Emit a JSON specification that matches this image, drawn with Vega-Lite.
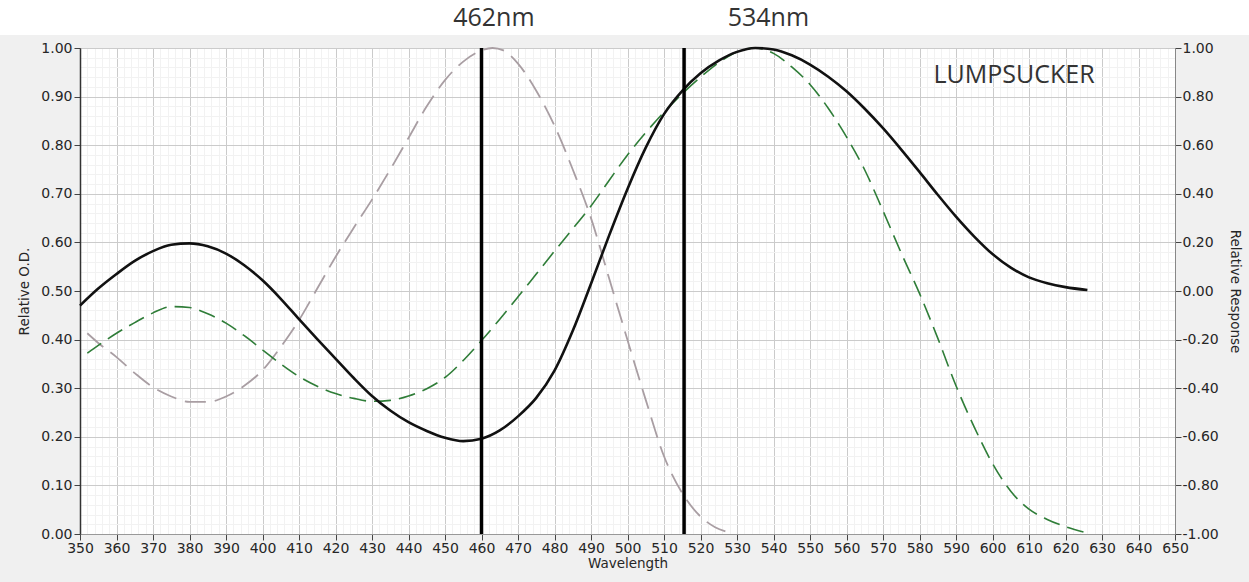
{
  "$schema": "https://vega.github.io/schema/vega-lite/v6.json",
  "width": 1095,
  "height": 486,
  "autosize": {"type": "none"},
  "padding": {"left": 80, "top": 48, "right": 74, "bottom": 48},
  "background": "#f0f0f0",
  "config": {
    "view": {"fill": "white", "stroke": "#666", "strokeWidth": 1},
    "axis": {
      "labelFont": "DejaVu Sans", "labelFontSize": 14, "labelColor": "#262626",
      "titleFont": "DejaVu Sans", "titleFontSize": 13.5, "titleFontWeight": "normal", "titleColor": "#262626",
      "tickColor": "#444", "tickSize": 6, "domainColor": "#444"
    }
  },
  "datasets": {
    "curves": [
      {"s": "k", "wl": 350, "v": 0.470}, {"s": "k", "wl": 355, "v": 0.505}, {"s": "k", "wl": 360, "v": 0.535}, {"s": "k", "wl": 365, "v": 0.562},
      {"s": "k", "wl": 370, "v": 0.582}, {"s": "k", "wl": 375, "v": 0.595}, {"s": "k", "wl": 380, "v": 0.598}, {"s": "k", "wl": 385, "v": 0.592},
      {"s": "k", "wl": 390, "v": 0.577}, {"s": "k", "wl": 395, "v": 0.553}, {"s": "k", "wl": 400, "v": 0.522}, {"s": "k", "wl": 405, "v": 0.484},
      {"s": "k", "wl": 410, "v": 0.442}, {"s": "k", "wl": 415, "v": 0.401}, {"s": "k", "wl": 420, "v": 0.361}, {"s": "k", "wl": 425, "v": 0.321},
      {"s": "k", "wl": 430, "v": 0.284}, {"s": "k", "wl": 435, "v": 0.254}, {"s": "k", "wl": 440, "v": 0.230}, {"s": "k", "wl": 445, "v": 0.212},
      {"s": "k", "wl": 450, "v": 0.198}, {"s": "k", "wl": 455, "v": 0.191}, {"s": "k", "wl": 460, "v": 0.196}, {"s": "k", "wl": 465, "v": 0.213},
      {"s": "k", "wl": 470, "v": 0.242}, {"s": "k", "wl": 475, "v": 0.280}, {"s": "k", "wl": 480, "v": 0.336}, {"s": "k", "wl": 485, "v": 0.418},
      {"s": "k", "wl": 490, "v": 0.515}, {"s": "k", "wl": 495, "v": 0.615}, {"s": "k", "wl": 500, "v": 0.710}, {"s": "k", "wl": 505, "v": 0.795},
      {"s": "k", "wl": 510, "v": 0.864}, {"s": "k", "wl": 515, "v": 0.912}, {"s": "k", "wl": 520, "v": 0.948}, {"s": "k", "wl": 525, "v": 0.974},
      {"s": "k", "wl": 530, "v": 0.992}, {"s": "k", "wl": 535, "v": 1.000}, {"s": "k", "wl": 540, "v": 0.997}, {"s": "k", "wl": 545, "v": 0.985},
      {"s": "k", "wl": 550, "v": 0.966}, {"s": "k", "wl": 555, "v": 0.941}, {"s": "k", "wl": 560, "v": 0.911}, {"s": "k", "wl": 565, "v": 0.875},
      {"s": "k", "wl": 570, "v": 0.835}, {"s": "k", "wl": 575, "v": 0.791}, {"s": "k", "wl": 580, "v": 0.745}, {"s": "k", "wl": 585, "v": 0.698},
      {"s": "k", "wl": 590, "v": 0.653}, {"s": "k", "wl": 595, "v": 0.612}, {"s": "k", "wl": 600, "v": 0.576}, {"s": "k", "wl": 605, "v": 0.548},
      {"s": "k", "wl": 610, "v": 0.528}, {"s": "k", "wl": 615, "v": 0.516}, {"s": "k", "wl": 620, "v": 0.508}, {"s": "k", "wl": 626, "v": 0.502},

      {"s": "g", "wl": 352, "v": 0.372}, {"s": "g", "wl": 355, "v": 0.388}, {"s": "g", "wl": 360, "v": 0.413}, {"s": "g", "wl": 365, "v": 0.435},
      {"s": "g", "wl": 370, "v": 0.455}, {"s": "g", "wl": 375, "v": 0.468}, {"s": "g", "wl": 380, "v": 0.466}, {"s": "g", "wl": 385, "v": 0.453},
      {"s": "g", "wl": 390, "v": 0.434}, {"s": "g", "wl": 395, "v": 0.408}, {"s": "g", "wl": 400, "v": 0.379}, {"s": "g", "wl": 405, "v": 0.350},
      {"s": "g", "wl": 410, "v": 0.324}, {"s": "g", "wl": 415, "v": 0.304}, {"s": "g", "wl": 420, "v": 0.289}, {"s": "g", "wl": 425, "v": 0.279},
      {"s": "g", "wl": 430, "v": 0.273}, {"s": "g", "wl": 435, "v": 0.275}, {"s": "g", "wl": 440, "v": 0.284}, {"s": "g", "wl": 445, "v": 0.299},
      {"s": "g", "wl": 450, "v": 0.322}, {"s": "g", "wl": 455, "v": 0.357}, {"s": "g", "wl": 460, "v": 0.398}, {"s": "g", "wl": 465, "v": 0.442},
      {"s": "g", "wl": 470, "v": 0.488}, {"s": "g", "wl": 475, "v": 0.535}, {"s": "g", "wl": 480, "v": 0.582}, {"s": "g", "wl": 485, "v": 0.628},
      {"s": "g", "wl": 490, "v": 0.675}, {"s": "g", "wl": 495, "v": 0.728}, {"s": "g", "wl": 500, "v": 0.780}, {"s": "g", "wl": 505, "v": 0.826},
      {"s": "g", "wl": 510, "v": 0.868}, {"s": "g", "wl": 515, "v": 0.906}, {"s": "g", "wl": 520, "v": 0.940}, {"s": "g", "wl": 525, "v": 0.970},
      {"s": "g", "wl": 530, "v": 0.992}, {"s": "g", "wl": 535, "v": 1.000}, {"s": "g", "wl": 540, "v": 0.989}, {"s": "g", "wl": 545, "v": 0.961},
      {"s": "g", "wl": 550, "v": 0.925}, {"s": "g", "wl": 555, "v": 0.876}, {"s": "g", "wl": 560, "v": 0.817}, {"s": "g", "wl": 565, "v": 0.749},
      {"s": "g", "wl": 570, "v": 0.665}, {"s": "g", "wl": 575, "v": 0.578}, {"s": "g", "wl": 580, "v": 0.495}, {"s": "g", "wl": 585, "v": 0.403},
      {"s": "g", "wl": 590, "v": 0.305}, {"s": "g", "wl": 595, "v": 0.220}, {"s": "g", "wl": 600, "v": 0.145}, {"s": "g", "wl": 605, "v": 0.088},
      {"s": "g", "wl": 610, "v": 0.051}, {"s": "g", "wl": 615, "v": 0.030}, {"s": "g", "wl": 620, "v": 0.015}, {"s": "g", "wl": 626, "v": 0.002},

      {"s": "p", "wl": 352, "v": 0.413}, {"s": "p", "wl": 355, "v": 0.393}, {"s": "p", "wl": 360, "v": 0.364}, {"s": "p", "wl": 365, "v": 0.331},
      {"s": "p", "wl": 370, "v": 0.302}, {"s": "p", "wl": 375, "v": 0.283}, {"s": "p", "wl": 380, "v": 0.272}, {"s": "p", "wl": 385, "v": 0.272},
      {"s": "p", "wl": 390, "v": 0.283}, {"s": "p", "wl": 395, "v": 0.305}, {"s": "p", "wl": 400, "v": 0.337}, {"s": "p", "wl": 405, "v": 0.385},
      {"s": "p", "wl": 410, "v": 0.440}, {"s": "p", "wl": 415, "v": 0.505}, {"s": "p", "wl": 420, "v": 0.570}, {"s": "p", "wl": 425, "v": 0.630},
      {"s": "p", "wl": 430, "v": 0.688}, {"s": "p", "wl": 435, "v": 0.750}, {"s": "p", "wl": 440, "v": 0.815}, {"s": "p", "wl": 445, "v": 0.880},
      {"s": "p", "wl": 450, "v": 0.934}, {"s": "p", "wl": 455, "v": 0.972}, {"s": "p", "wl": 460, "v": 0.995}, {"s": "p", "wl": 463, "v": 1.000},
      {"s": "p", "wl": 466, "v": 0.995}, {"s": "p", "wl": 470, "v": 0.968}, {"s": "p", "wl": 475, "v": 0.912}, {"s": "p", "wl": 480, "v": 0.840},
      {"s": "p", "wl": 485, "v": 0.750}, {"s": "p", "wl": 490, "v": 0.650}, {"s": "p", "wl": 495, "v": 0.525}, {"s": "p", "wl": 500, "v": 0.399},
      {"s": "p", "wl": 505, "v": 0.276}, {"s": "p", "wl": 510, "v": 0.160}, {"s": "p", "wl": 515, "v": 0.084}, {"s": "p", "wl": 520, "v": 0.036},
      {"s": "p", "wl": 524, "v": 0.014}, {"s": "p", "wl": 527, "v": 0.005}
    ],
    "cuts": [{"wl": 460}, {"wl": 515.5}],
    "notes": [
      {"t": "462nm", "wl": 463.4, "v": 1.062},
      {"t": "534nm", "wl": 538.6, "v": 1.062},
      {"t": "LUMPSUCKER", "wl": 605.9, "v": 0.945}
    ]
  },
  "resolve": {"scale": {"y": "independent"}},
  "layer": [
    {
      "data": {"name": "curves"},
      "encoding": {
        "x": {
          "field": "wl", "type": "quantitative",
          "scale": {"domain": [350, 650], "nice": false},
          "axis": {
            "title": "Wavelength", "tickCount": 150, "grid": true, "labelFontSize": 14,
            "labelExpr": "datum.value % 10 === 0 ? datum.label : ''",
            "labelOverlap": false, "labelFlush": false, "labelPadding": 1, "titlePadding": 1,
            "domainColor": "#999",
            "gridColor": {"condition": {"test": "datum.value % 10 === 0", "value": "#cbcbcb"}, "value": "#f2f2f2"},
            "tickOpacity": {"condition": {"test": "datum.value % 10 === 0", "value": 1}, "value": 0}
          }
        },
        "y": {
          "field": "v", "type": "quantitative",
          "scale": {"domain": [0, 1], "nice": false},
          "axis": {
            "title": "Relative O.D.", "tickCount": 50, "grid": true, "labelFontSize": 14,
            "labelExpr": "round(datum.value*100) % 10 === 0 ? format(datum.value, '.2f') : ''",
            "labelOverlap": false, "labelFlush": false, "labelPadding": 2, "titlePadding": 9,
            "domainColor": "#333", "domainWidth": 1.5,
            "gridColor": {"condition": {"test": "round(datum.value*100) % 10 === 0", "value": "#cbcbcb"}, "value": "#f2f2f2"},
            "tickOpacity": {"condition": {"test": "round(datum.value*100) % 10 === 0", "value": 1}, "value": 0}
          }
        }
      },
      "layer": [
        {
          "transform": [{"filter": "datum.s === 'p'"}],
          "mark": {"type": "line", "color": "#a99ea3", "strokeWidth": 1.8, "strokeDash": [21, 9], "interpolate": "monotone"}
        },
        {
          "transform": [{"filter": "datum.s === 'g'"}],
          "mark": {"type": "line", "color": "#2f7d38", "strokeWidth": 1.6, "strokeDash": [17, 8], "interpolate": "monotone"}
        },
        {
          "transform": [{"filter": "datum.s === 'k'"}],
          "mark": {"type": "line", "color": "#111111", "strokeWidth": 2.6, "interpolate": "monotone"}
        }
      ]
    },
    {
      "data": {"values": [{}]},
      "mark": {"type": "rect", "color": "white"},
      "encoding": {
        "x": {"datum": 300, "type": "quantitative", "scale": {"domain": [350, 650], "nice": false}},
        "x2": {"datum": 700},
        "y": {"datum": 1.027, "type": "quantitative", "scale": {"domain": [0, 1], "nice": false}, "axis": null},
        "y2": {"datum": 1.3}
      }
    },
    {
      "data": {"name": "cuts"},
      "mark": {"type": "rule", "color": "#000000", "strokeWidth": 3.5},
      "encoding": {
        "x": {"field": "wl", "type": "quantitative", "scale": {"domain": [350, 650], "nice": false}},
        "y": {
          "datum": -1, "type": "quantitative",
          "scale": {"domain": [-1, 1], "nice": false},
          "axis": {
            "orient": "right", "title": "Relative Response", "tickCount": 10, "format": ".2f", "labelFontSize": 14,
            "labelExpr": "replace(datum.label, '\u2212', '-')",
            "grid": false, "labelPadding": 1, "titlePadding": 9, "domainColor": "#888"
          }
        },
        "y2": {"datum": 1}
      }
    },
    {
      "data": {"name": "notes"},
      "mark": {"type": "text", "font": "Open Sans", "fontSize": 25, "color": "#333333", "align": "center", "baseline": "middle"},
      "encoding": {
        "x": {"field": "wl", "type": "quantitative", "scale": {"domain": [350, 650], "nice": false}},
        "y": {"field": "v", "type": "quantitative", "scale": {"domain": [0, 1], "nice": false}, "axis": null},
        "text": {"field": "t"}
      }
    }
  ]
}
